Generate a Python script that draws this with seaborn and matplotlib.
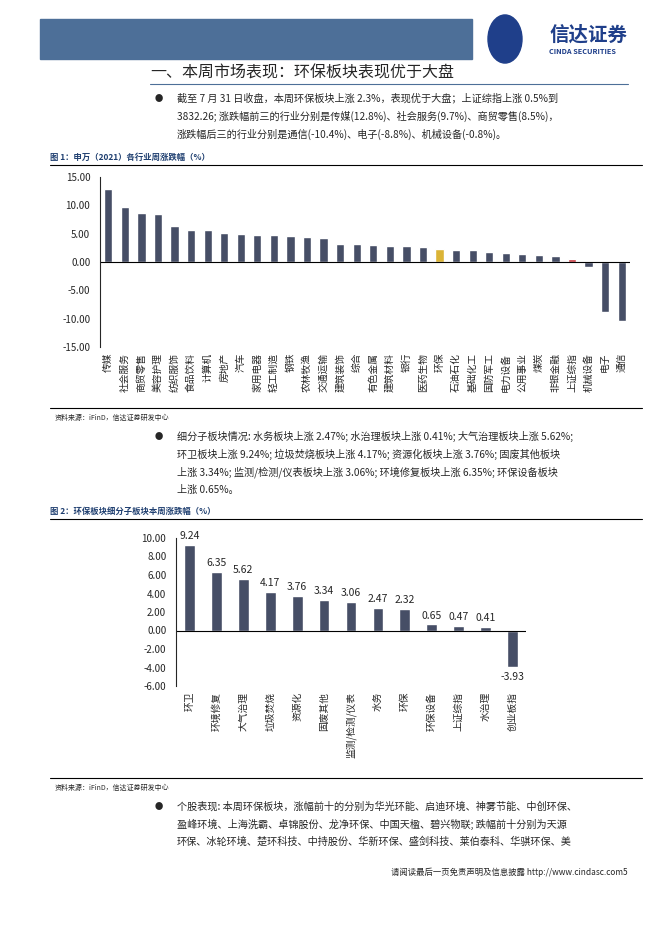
import pandas as pd
import numpy as np
import seaborn as sns
import matplotlib.pyplot as plt
from matplotlib.patches import Rectangle, Circle

sns.set_style("white")
plt.rcParams['font.family'] = ['Noto Sans CJK SC', 'DejaVu Sans']

W, H = 662, 936  # page size in pixels

def box(x, y, w, h):
    """pixel box (top-left origin) -> figure fraction rect"""
    return [x / W, 1 - (y + h) / H, w / W, h / H]

# Define data
industry = pd.DataFrame({
    'name': ['传媒', '社会服务', '商贸零售', '美容护理', '纺织服饰', '食品饮料', '计算机', '房地产',
             '汽车', '家用电器', '轻工制造', '钢铁', '农林牧渔', '交通运输', '建筑装饰', '综合',
             '有色金属', '建筑材料', '银行', '医药生物', '环保', '石油石化', '基础化工', '国防军工',
             '电力设备', '公用事业', '煤炭', '非银金融', '上证综指', '机械设备', '电子', '通信'],
    'pct': [12.8, 9.7, 8.6, 8.5, 6.4, 5.7, 5.6, 5.1, 5.0, 4.8, 4.7, 4.6, 4.5, 4.2, 3.2, 3.1,
            3.0, 2.8, 2.8, 2.7, 2.3, 2.1, 2.1, 1.8, 1.6, 1.5, 1.3, 1.1, 0.5, -0.8, -8.8, -10.4]
})
sub = pd.DataFrame({
    'name': ['环卫', '环境修复', '大气治理', '垃圾焚烧', '资源化', '固废其他', '监测/检测/仪表',
             '水务', '环保', '环保设备', '上证综指', '水治理', '创业板指'],
    'pct': [9.24, 6.35, 5.62, 4.17, 3.76, 3.34, 3.06, 2.47, 2.32, 0.65, 0.47, 0.41, -3.93]
})
navy = '#414b6b'
ind_colors = [('#f7c31a' if n == '环保' else '#e0202a' if n == '上证综指' else navy) for n in industry['name']]

fig = plt.figure(figsize=(6.62, 9.36), dpi=100)

# Header band and logo
fig.patches.append(Rectangle((40 / W, 1 - 59 / H), 432 / W, 40 / H, transform=fig.transFigure, color='#4d6f98'))
fig.patches.append(Circle((505 / W, 1 - 39 / H), 17 / W, transform=fig.transFigure, color='#1f3f8a'))
fig.text(549 / W, 1 - 35 / H, '信达证券', fontsize=14, fontweight='bold', color='#1f3f8a', va='center')
fig.text(549 / W, 1 - 52 / H, 'CINDA SECURITIES', fontsize=5.3, fontweight='bold', color='#1f3f8a', va='center')

# Section title and text
fig.text(150 / W, 1 - 73 / H, '一、本周市场表现：环保板块表现优于大盘', fontsize=11.5, va='center')
fig.add_artist(plt.Line2D([150 / W, 628 / W], [1 - 84 / H] * 2, color='#4d6f98', lw=0.8))
body = ['截至 7 月 31 日收盘，本周环保板块上涨 2.3%，表现优于大盘；上证综指上涨 0.5%到',
        '3832.26; 涨跌幅前三的行业分别是传媒(12.8%)、社会服务(9.7%)、商贸零售(8.5%)，',
        '涨跌幅后三的行业分别是通信(-10.4%)、电子(-8.8%)、机械设备(-0.8%)。']
fig.text(155 / W, 1 - 98 / H, '●', fontsize=6, va='center')
for i, line in enumerate(body):
    fig.text(177 / W, 1 - (98 + i * 18) / H, line, fontsize=7.3, va='center')

# Figure 1
fig.text(50 / W, 1 - 157 / H, '图 1：申万（2021）各行业周涨跌幅（%）', fontsize=6, fontweight='bold', color='#1f3f70', va='center')
fig.add_artist(plt.Line2D([50 / W, 642 / W], [1 - 165 / H] * 2, color='black', lw=0.8))
ax1 = fig.add_axes(box(100, 177, 530, 170))
sns.barplot(data=industry, x='name', y='pct', hue='name', palette=ind_colors, legend=False, width=0.5, ax=ax1)
ax1.set_ylim(-15, 15)
ax1.set_yticks(np.arange(-15, 15.1, 5))
ax1.set_yticklabels([f'{v:.2f}' for v in np.arange(-15, 15.1, 5)], fontsize=7)
ax1.axhline(0, color='black', lw=0.8)
ax1.set_xlabel('')
ax1.set_ylabel('')
ax1.tick_params(axis='x', length=0, labelsize=7, rotation=90, pad=4)
for s in ['top', 'right', 'bottom']:
    ax1.spines[s].set_visible(False)
ax1.spines['left'].set_linewidth(0.8)
fig.add_artist(plt.Line2D([50 / W, 642 / W], [1 - 408 / H] * 2, color='black', lw=0.8))
fig.text(55 / W, 1 - 418 / H, '资料来源：iFinD，信达证券研发中心', fontsize=5, style='italic', va='center')

body2 = ['细分子板块情况: 水务板块上涨 2.47%; 水治理板块上涨 0.41%; 大气治理板块上涨 5.62%;',
         '环卫板块上涨 9.24%; 垃圾焚烧板块上涨 4.17%; 资源化板块上涨 3.76%; 固废其他板块',
         '上涨 3.34%; 监测/检测/仪表板块上涨 3.06%; 环境修复板块上涨 6.35%; 环保设备板块',
         '上涨 0.65%。']
fig.text(155 / W, 1 - 436 / H, '●', fontsize=6, va='center')
for i, line in enumerate(body2):
    fig.text(177 / W, 1 - (436 + i * 18) / H, line, fontsize=7.3, va='center')

# Figure 2
fig.text(50 / W, 1 - 511 / H, '图 2：环保板块细分子板块本周涨跌幅（%）', fontsize=6, fontweight='bold', color='#1f3f70', va='center')
fig.add_artist(plt.Line2D([50 / W, 642 / W], [1 - 519 / H] * 2, color='black', lw=0.8))
ax2 = fig.add_axes(box(176, 538, 350, 148))
sns.barplot(data=sub, x='name', y='pct', color=navy, width=0.4, ax=ax2)
ax2.set_ylim(-6, 10)
ax2.set_yticks(np.arange(-6, 10.1, 2))
ax2.set_yticklabels([f'{v:.2f}' for v in np.arange(-6, 10.1, 2)], fontsize=7)
ax2.axhline(0, color='black', lw=0.8)
for i, v in enumerate(sub['pct']):
    ax2.text(i, v + (0.4 if v > 0 else -0.6), f'{v:.2f}', ha='center', va='bottom' if v > 0 else 'top', fontsize=7.5)
ax2.set_xlabel('')
ax2.set_ylabel('')
ax2.tick_params(axis='x', length=0, labelsize=7, rotation=90, pad=4)
for s in ['top', 'right', 'bottom']:
    ax2.spines[s].set_visible(False)
ax2.spines['left'].set_linewidth(0.8)
fig.add_artist(plt.Line2D([50 / W, 642 / W], [1 - 778 / H] * 2, color='black', lw=0.8))
fig.text(55 / W, 1 - 788 / H, '资料来源：iFinD，信达证券研发中心', fontsize=5, style='italic', va='center')

body3 = ['个股表现: 本周环保板块，涨幅前十的分别为华光环能、启迪环境、神雾节能、中创环保、',
         '盈峰环境、上海洗霸、卓锦股份、龙净环保、中国天楹、碧兴物联; 跌幅前十分别为天源',
         '环保、冰轮环境、楚环科技、中持股份、华新环保、盛剑科技、莱伯泰科、华骐环保、美']
fig.text(155 / W, 1 - 806 / H, '●', fontsize=6, va='center')
for i, line in enumerate(body3):
    fig.text(177 / W, 1 - (806 + i * 18) / H, line, fontsize=7.3, va='center')
fig.text(628 / W, 1 - 872 / H, '请阅读最后一页免责声明及信息披露 http://www.cindasc.com5', fontsize=6, ha='right', va='center')

plt.savefig('out.png', dpi=100)
